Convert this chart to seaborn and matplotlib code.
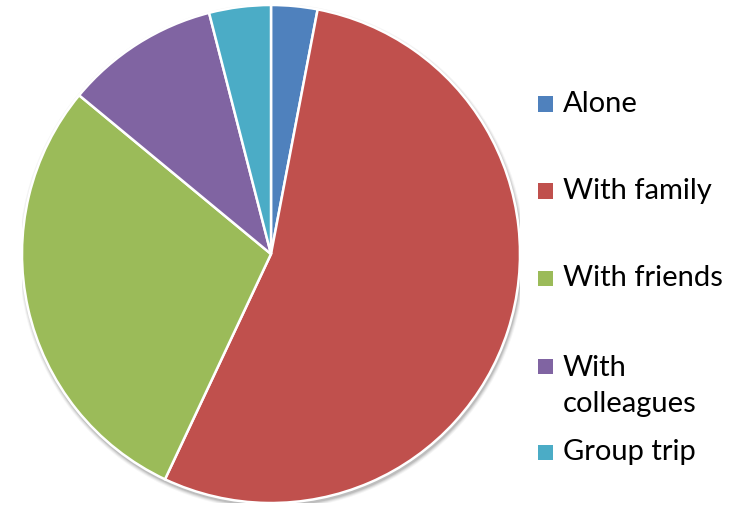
import matplotlib
matplotlib.use("Agg")
import matplotlib.pyplot as plt
from matplotlib.patches import Rectangle, Circle
import seaborn as sns

# Who people travel with (share of respondents, %)
categories = ["Alone", "With family", "With friends", "With\ncolleagues", "Group trip"]
shares = [3, 54, 29, 10, 4]
colors = ["#4F81BD", "#C0504D", "#9BBB59", "#8064A2", "#4BACC6"]

sns.set_style("white")
plt.rcParams["font.family"] = ["Lato", "DejaVu Sans"]

W, H = 738, 507
fig = plt.figure(figsize=(W / 100, H / 100), dpi=100)

cx, cy, r = 271, 254, 249
ax = fig.add_axes([(cx - r) / W, (H - cy - r) / H, 2 * r / W, 2 * r / H])

# soft drop shadow under the pie
for k, a in [(4.0, 0.04), (3.0, 0.06), (2.0, 0.08), (1.0, 0.10)]:
    ax.add_patch(Circle((0.004, -0.010), 1 + k * 0.004, color="black",
                        alpha=a, lw=0, zorder=0))

ax.pie(shares, colors=colors, startangle=90, counterclock=False,
       wedgeprops=dict(edgecolor="white", linewidth=1.8))
ax.set_xlim(-1.0, 1.0)
ax.set_ylim(-1.0, 1.0)
ax.set_aspect("equal")
ax.axis("off")

# legend entries
legend_y = [104, 191, 278, 386, 452]
for lab, col, y in zip(categories, colors, legend_y):
    sq_y = 366 if "\n" in lab else y
    fig.patches.append(Rectangle((538 / W, (H - sq_y - 7.5) / H), 15 / W, 15 / H,
                                 transform=fig.transFigure, facecolor=col,
                                 edgecolor="none"))
    fig.text(563 / W, (H - y) / H, lab, fontsize=21, color="black",
             va="center", ha="left", linespacing=1.45)

fig.savefig("out.png", dpi=100)
